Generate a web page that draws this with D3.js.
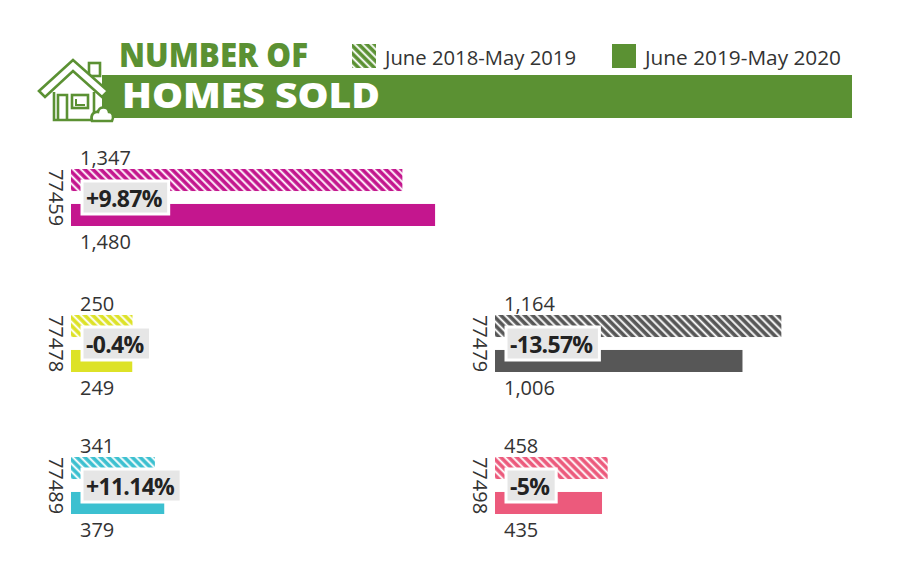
<!DOCTYPE html>
<html>
<head>
<meta charset="utf-8">
<script src="https://cdn.jsdelivr.net/npm/d3@7"></script>
<style>
  html, body { margin: 0; padding: 0; background: #ffffff; }
  svg { display: block; }
</style>
</head>
<body>
<svg id="chart" width="900" height="580"></svg>
<script>
// ---- data ----
const zips = ["77459", "77478", "77479", "77489", "77498"];
const sold2019 = [1347, 250, 1164, 341, 458];   // June 2018-May 2019
const sold2020 = [1480, 249, 1006, 379, 435];   // June 2019-May 2020
const changeLabels = ["+9.87%", "-0.4%", "-13.57%", "+11.14%", "-5%"];
const seriesNames = ["June 2018-May 2019", "June 2019-May 2020"];
const titleLines = ["NUMBER OF", "HOMES SOLD"];

// ---- layout / style ----
const zipColors = ["#c4168e", "#dde227", "#575757", "#3cc0d0", "#ec5a7c"];
const gridCol = [0, 0, 1, 0, 1];
const gridRow = [0, 1, 1, 2, 2];
const green = "#5b9133";
const textColor = "#333333";

const svg = d3.select("#chart");
const defs = svg.append("defs");

// hatch patterns
zipColors.concat([green]).forEach((c, i) => {
  const p = defs.append("pattern")
    .attr("id", "hatch" + i)
    .attr("patternUnits", "userSpaceOnUse")
    .attr("width", 5.6).attr("height", 5.6)
    .attr("patternTransform", "rotate(-45)");
  p.append("rect").attr("width", 5.6).attr("height", 5.6).attr("fill", c);
  p.append("line").attr("x1", 1.2).attr("x2", 1.2).attr("y1", 0).attr("y2", 5.6)
    .attr("stroke", "#ffffff").attr("stroke-width", 1.9);
});

// scales
const x = d3.scaleLinear().domain([0, 1500]).range([0, 369]);
const colX = d3.scaleOrdinal().domain([0, 1]).range([71, 495]);
const rowY = d3.scaleOrdinal().domain([0, 1, 2]).range([169, 315, 457]);
const inner = d3.scaleBand().domain([0, 1]).range([0, 57]).paddingInner(0.37);

// ---- header ----
svg.append("rect").attr("x", 102).attr("y", 75).attr("width", 750).attr("height", 43).attr("fill", green);

const title = svg.append("text")
  .attr("font-family", "'Open Sans', sans-serif").attr("font-weight", 800);
title.append("tspan").attr("x", 119).attr("y", 67)
  .attr("font-size", 33).attr("fill", green)
  .attr("textLength", 189).attr("lengthAdjust", "spacingAndGlyphs")
  .text(titleLines[0]);
title.append("tspan").attr("x", 122).attr("y", 108)
  .attr("font-size", 35).attr("fill", "#ffffff")
  .attr("textLength", 258).attr("lengthAdjust", "spacingAndGlyphs")
  .text(titleLines[1]);

// house icon
const house = svg.append("g").attr("fill", "#ffffff").attr("stroke", green)
  .attr("stroke-width", 2.6).attr("stroke-linejoin", "miter");
house.append("rect").attr("x", 89).attr("y", 63).attr("width", 11).attr("height", 13);
house.append("path").attr("d", "M39,91 L73,60 L108,91 L102,97 L73,71 L45,97 Z");
house.append("path").attr("d", "M54,92 L54,120 L94,120 L94,92").attr("fill", "none");
house.append("path").attr("d", "M58,120 L58,95 L67,95 L67,120").attr("fill", "none");
house.append("rect").attr("x", 72).attr("y", 95).attr("width", 16).attr("height", 13);
house.append("path").attr("d", "M76,99 L76,105 L85,105").attr("fill", "none").attr("stroke-width", 2);
house.append("path").attr("d", "M92,121 C90,115 94,111 98,112 C99,106 108,106 109,112 C113,112 114,117 112,121 Z");

// legend
const legend = svg.append("g");
const legendX = [352, 612];
seriesNames.forEach((name, i) => {
  legend.append("rect").attr("x", legendX[i]).attr("y", 44).attr("width", 24).attr("height", 24)
    .attr("fill", i === 0 ? "url(#hatch5)" : green);
  legend.append("text").attr("x", legendX[i] + 33).attr("y", 64.5)
    .attr("font-family", "'Open Sans', sans-serif").attr("font-size", 20)
    .attr("fill", textColor)
    .attr("textLength", i === 0 ? 191 : 196).attr("lengthAdjust", "spacingAndGlyphs")
    .text(name);
});

// ---- groups ----
const groups = zips.map((z, i) => ({
  zip: z, v0: sold2019[i], v1: sold2020[i], label: changeLabels[i],
  color: zipColors[i], i: i, col: gridCol[i], row: gridRow[i]
}));

const g = svg.selectAll("g.grp").data(groups).join("g")
  .attr("class", "grp")
  .attr("transform", d => `translate(${colX(d.col)},${rowY(d.row)})`);

// bars
g.append("rect").attr("x", 0).attr("y", inner(0))
  .attr("width", d => x(d.v0)).attr("height", inner.bandwidth())
  .attr("fill", d => `url(#hatch${d.i})`);
g.append("rect").attr("x", 0).attr("y", inner(1))
  .attr("width", d => x(d.v1)).attr("height", inner.bandwidth())
  .attr("fill", d => d.color);

// value labels
const fmt = d3.format(",");
g.append("text").attr("x", 9).attr("y", inner(0) - 4)
  .attr("font-family", "'Open Sans', sans-serif").attr("font-size", 20).attr("fill", textColor)
  .text(d => fmt(d.v0));
g.append("text").attr("x", 9).attr("y", inner(1) + inner.bandwidth() + 23)
  .attr("font-family", "'Open Sans', sans-serif").attr("font-size", 20).attr("fill", textColor)
  .text(d => fmt(d.v1));

// zip labels (rotated)
const midY = (inner(0) + inner.bandwidth() + inner(1)) / 2;
g.append("text")
  .attr("transform", `translate(-15,${midY}) rotate(90)`)
  .attr("text-anchor", "middle").attr("dominant-baseline", "central")
  .attr("font-family", "'Open Sans', sans-serif").attr("font-size", 20).attr("fill", textColor)
  .text(d => d.zip);

// change boxes
g.each(function(d) {
  const sel = d3.select(this);
  const box = sel.append("rect").attr("fill", "#e6e6e6").attr("stroke", "#ffffff").attr("stroke-width", 3);
  const t = sel.append("text").attr("x", 15).attr("y", midY)
    .attr("dominant-baseline", "central")
    .attr("font-family", "'Open Sans', sans-serif").attr("font-weight", 700)
    .attr("font-size", 23).attr("letter-spacing", -0.7).attr("fill", "#222222")
    .text(d.label);
  const w = t.node().getComputedTextLength();
  box.attr("x", 11).attr("y", midY - 16.5).attr("width", w + 11).attr("height", 33);
});
</script>
</body>
</html>
